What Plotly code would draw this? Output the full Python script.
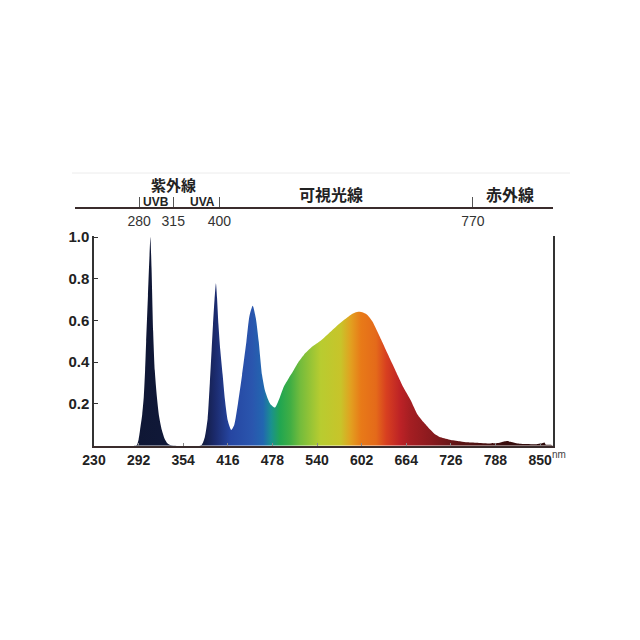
import plotly.graph_objects as go

# ---- data (wavelength nm on bottom scale, relative intensity) ----
wavelength = [230, 285, 289.5, 292, 294, 297, 299.2, 301, 302.5, 305, 307, 308.4, 310, 312.2,
              314.5, 317.4, 320.5, 324.3, 328, 332, 336, 345, 360, 375, 380, 384, 388, 391,
              393.5, 395.4, 397.5, 399.5, 401, 403, 405.5, 408.8, 412, 416, 420.9, 425, 430,
              435.8, 441.8, 446, 450.6, 455, 459, 463.6, 468, 475, 481.5, 487, 493.8, 500,
              507.7, 514, 521.6, 533, 545, 558.8, 572.7, 586.7, 593, 598.3, 604, 610, 617,
              624, 631, 637.8, 645, 651.8, 660, 670, 679.6, 688.8, 698, 702.7, 712, 726, 740,
              749, 765, 777, 792, 800, 805, 810, 819, 832, 845, 852, 856, 858, 865, 868]
intensity = [0, 0, 0.003, 0.03, 0.075, 0.15, 0.235, 0.36, 0.5, 0.72, 0.9, 1.0, 0.85, 0.55,
             0.36, 0.235, 0.14, 0.075, 0.035, 0.012, 0.003, 0.0, 0.0, 0.0, 0.005, 0.04, 0.13, 0.3,
             0.46, 0.58, 0.7, 0.778, 0.71, 0.58, 0.46, 0.34, 0.22, 0.12, 0.075, 0.1, 0.2,
             0.339, 0.498, 0.62, 0.671, 0.61, 0.498, 0.339, 0.26, 0.2, 0.183, 0.22, 0.283, 0.32,
             0.363, 0.4, 0.435, 0.474, 0.503, 0.546, 0.589, 0.626, 0.638, 0.642, 0.638, 0.626, 0.595,
             0.546, 0.495, 0.443, 0.39, 0.339, 0.28, 0.219, 0.15, 0.11, 0.075, 0.059, 0.04, 0.027, 0.02,
             0.016, 0.013, 0.011, 0.013, 0.02, 0.022, 0.018, 0.011, 0.008, 0.007, 0.01, 0.015, 0.005, 0.004, 0]

# colour of the spectrum at given wavelengths
color_nm = [230, 380, 398, 420, 450, 465, 476, 489, 503, 517, 545, 573, 587, 601, 622, 636, 656, 670, 698, 740, 800, 868]
color_hex = ["#0e1530", "#111a3c", "#1b2a6c", "#2646a2", "#2a56ae", "#2266b0", "#1a9090", "#22a650",
             "#40ae44", "#74bc3c", "#b8cc30", "#c8c42a", "#e2a020", "#e87a18", "#e46a1a", "#d84020",
             "#bc2226", "#a41e22", "#8a1a1e", "#5a1414", "#3a0e0e", "#2a0a0a"]

x_ticks = [230, 292, 354, 416, 478, 540, 602, 664, 726, 788, 850]
y_ticks = [0.2, 0.4, 0.6, 0.8, 1.0]
y_ticktext = ["0.2", "0.4", "0.6", "0.8", "1.0"]

top_tick_text = ["280", "315", "400", "770"]
top_tick_vals = [292.7, 340.1, 404.2, 756.7]  # positions expressed on the bottom nm scale

X_MIN, X_MAX = 230, 868
cs_lo, cs_hi = X_MIN, X_MAX
colorscale = [[(n - cs_lo) / (cs_hi - cs_lo), c] for n, c in zip(color_nm, color_hex)]

fig = go.Figure()
fig.add_trace(go.Scatter(
    x=wavelength, y=intensity, mode="lines",
    line=dict(width=0, color="rgba(0,0,0,0)", shape="spline", smoothing=0.6),
    fill="tozeroy",
    fillgradient=dict(type="horizontal", colorscale=colorscale, start=cs_lo, stop=cs_hi),
    hoverinfo="skip", showlegend=False,
))
# dummy trace for the top (band) axis
fig.add_trace(go.Scatter(x=[None], y=[None], xaxis="x2", yaxis="y", showlegend=False, hoverinfo="skip"))

W = 640
OFF = 8  # page body margin
def px(v):
    return (v - OFF) / W
def py(v):
    return 1 - (v - OFF) / W

font_num = dict(family="Liberation Sans, Arial", size=14, color="#222", weight="bold")

fig.update_layout(
    width=640, height=640,
    margin=dict(l=0, r=0, t=0, b=0),
    paper_bgcolor="white", plot_bgcolor="rgba(0,0,0,0)",
    xaxis=dict(
        domain=[px(94), px(553)], range=[X_MIN, X_MAX], anchor="y",
        showgrid=False, zeroline=False, showline=True, linecolor="#3a2c2c", linewidth=2,
        tickvals=x_ticks, ticktext=[str(t) for t in x_ticks], ticks="inside", ticklen=3,
        tickcolor="#888", tickfont=font_num, automargin=False,
    ),
    yaxis=dict(
        domain=[py(445.7), py(236)], range=[0, 1.005], anchor="x",
        showgrid=False, zeroline=False, showline=True, mirror=True, linecolor="#333", linewidth=1.5,
        tickvals=y_ticks, ticktext=y_ticktext, ticks="inside", ticklen=4, tickcolor="#333",
        tickfont=dict(family="Liberation Sans, Arial", size=15, color="#222", weight="bold"),
        automargin=False,
    ),
    xaxis2=dict(
        domain=[px(75), px(553)], range=[203.5, 868], anchor="free", position=py(208),
        showgrid=False, zeroline=False, showline=True, linecolor="#3a2c2c", linewidth=2,
        tickvals=top_tick_vals, ticktext=top_tick_text, ticks="inside", ticklen=10,
        tickcolor="#555", tickwidth=1, side="bottom",
        tickfont=dict(family="Liberation Sans, Arial", size=14, color="#333"), automargin=False,
    ),
)

# faint rule at very top
fig.add_shape(type="line", xref="paper", yref="paper", x0=px(72), x1=px(570), y0=py(173), y1=py(173),
              line=dict(color="#ececec", width=1))

cjk = "Noto Sans CJK JP"
labels = [
    ("紫外線", 173, 184, 15, cjk),
    ("UVB", 156, 202, 12, "Liberation Sans, Arial"),
    ("UVA", 202, 202, 12, "Liberation Sans, Arial"),
    ("可視光線", 331, 194, 16, cjk),
    ("赤外線", 510, 194, 16, cjk),
]
for t, x, y, s, f in labels:
    fig.add_annotation(text=t, xref="paper", yref="paper", x=px(x), y=py(y), showarrow=False,
                       xanchor="center", yanchor="middle",
                       font=dict(family=f, size=s, color="#222", weight="bold"))

fig.add_annotation(text="nm", xref="x", yref="paper", x=850, y=py(462), xshift=19, showarrow=False,
                   font=dict(family="Liberation Sans, Arial", size=10, color="#444"))

fig.write_html("out.html")
